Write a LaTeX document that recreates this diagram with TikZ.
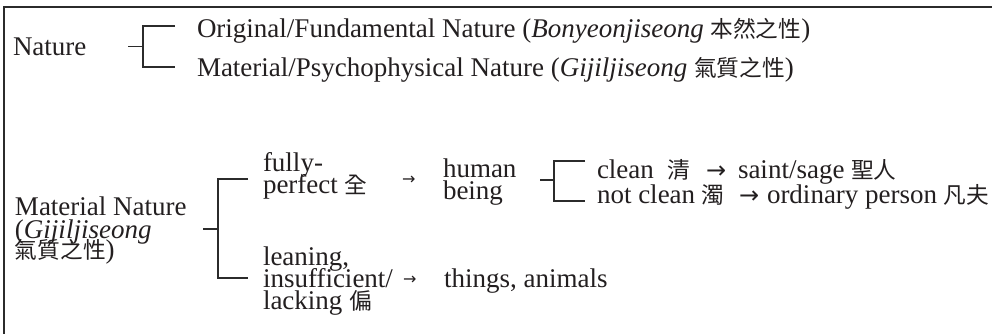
\documentclass[tikz,border=0pt]{standalone}
\usepackage{fontspec}
\setmainfont{Liberation Serif}
\newfontfamily\cjk[Scale=0.84]{Noto Sans CJK TC}
\newfontfamily\arrowfont{DejaVu Sans}
\definecolor{ink}{HTML}{231F20}
\definecolor{rule}{HTML}{2B2B2B}
\begin{document}
\begin{tikzpicture}[x=0.5pt,y=-0.5pt,
  txt/.style={anchor=base west, inner sep=0pt, outer sep=0pt, font=\fontsize{13.5}{15}\selectfont, text=ink},
  sarrow/.style={anchor=west, inner sep=0pt, outer sep=0pt, font=\arrowfont\fontsize{8}{9}\selectfont, text=ink},
  barrow/.style={anchor=base west, inner sep=0pt, outer sep=0pt, font=\arrowfont\fontsize{12}{13}\selectfont, text=ink},
  brk/.style={draw=rule, line width=0.7pt},
  frameline/.style={draw=rule, line width=1pt}]
\useasboundingbox (0,0) rectangle (992,334);
% frame
\coordinate (fr) at (992,7);
\coordinate (fc) at (4,7);
\coordinate (fb) at (4,334);
\draw[frameline] (fr) -- (fc) -- (fb);

% section 1
\node[txt] (nat) at (13,55) {Nature};
\node[txt] (orig) at (197,37) {Original/Fundamental Nature (\textit{Bonyeonjiseong} {\cjk 本然之性})};
\node[txt] (phys) at (197,76) {Material/Psychophysical Nature (\textit{Gijiljiseong} {\cjk 氣質之性})};
\coordinate (b1s) at (128,46.5);
\coordinate (b1) at (143,46.5);
\coordinate (b1t) at (175,26);
\coordinate (b1b) at (175,67);
\draw[brk] (b1s) -- (b1);
\draw[brk] (b1t) -| (b1) |- (b1b);

% section 2
\node[txt] (mn1) at (15,215) {Material Nature};
\node[txt] (mn2) at (15,238) {(\textit{Gijiljiseong}};
\node[txt] (mn3) at (15,258) {{\cjk 氣質之性})};
\coordinate (b2s) at (203,229);
\coordinate (b2) at (218,229);
\coordinate (b2t) at (248,179);
\coordinate (b2b) at (248,278);
\draw[brk] (b2s) -- (b2);
\draw[brk] (b2t) -| (b2) |- (b2b);

\node[txt] (fp1) at (263,171) {fully-};
\node[txt] (fp2) at (263,193) {perfect {\cjk 全}};
\node[sarrow] (ar1) at (402,180) {→};
\node[txt] (hb1) at (443,177) {human};
\node[txt] (hb2) at (443,199) {being};

\coordinate (b3s) at (540,180);
\coordinate (b3) at (554,180);
\coordinate (b3t) at (585,161);
\coordinate (b3b) at (585,201);
\draw[brk] (b3s) -- (b3);
\draw[brk] (b3t) -| (b3) |- (b3b);

\node[txt] (cl) at (597,178) {clean};
\node[txt] (clc) at (667,178) {\cjk 清};
\node[barrow] (ar3) at (706,178) {→};
\node[txt] (sg) at (738,178) {saint/sage {\cjk 聖人}};
\node[txt] (ncl) at (597,203) {not clean {\cjk 濁}};
\node[barrow] (ar4) at (739,203) {→};
\node[txt] (op) at (767,203) {ordinary person {\cjk 凡夫}};

\node[txt] (li1) at (263,265) {leaning,};
\node[txt] (li2) at (263,287) {insufficient/};
\node[txt] (li3) at (263,309) {lacking {\cjk 偏}};
\node[sarrow] (ar2) at (403,280) {→};
\node[txt] (th) at (444,287) {things, animals};
\end{tikzpicture}
\end{document}
